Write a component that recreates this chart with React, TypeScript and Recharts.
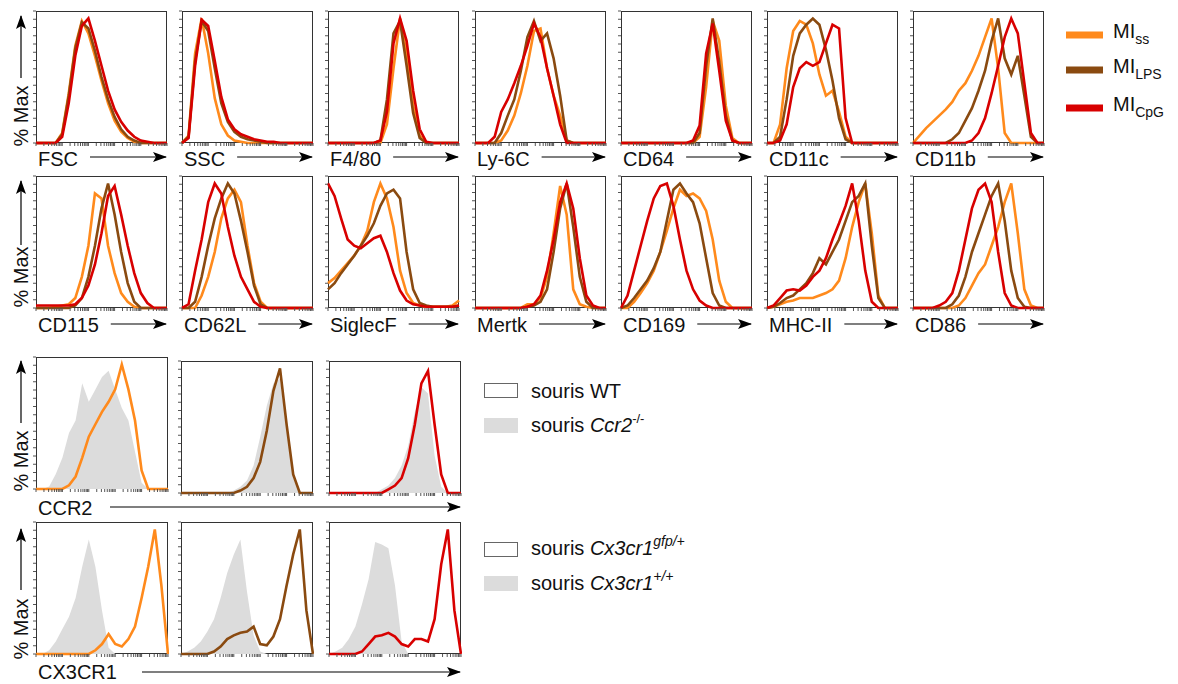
import { ComposedChart, Line, Area, XAxis, YAxis } from "recharts"

// histogram bins, fraction of the log axis (0..100)
const BINS = [0, 5, 10, 15, 20, 25, 30, 35, 40, 45, 50, 55, 60, 65, 70, 75, 80, 85, 90, 95, 100]

// top block: MI ss / LPS / CpG
const fsc_ss = [0, 0, 0, 0, 8, 40, 78, 98, 88, 70, 50, 32, 18, 9, 4, 1, 0, 0, 0, 0, 0]
const fsc_lps = [0, 0, 0, 0, 7, 38, 76, 97, 92, 74, 53, 35, 21, 11, 5, 2, 0, 0, 0, 0, 0]
const fsc_cpg = [0, 0, 0, 0, 5, 32, 70, 94, 100, 82, 62, 42, 27, 17, 10, 5, 2, 1, 0, 0, 0]

const ssc_ss = [0, 6, 72, 100, 72, 36, 15, 6, 2, 1, 0, 0, 0, 0, 0, 0, 0, 0, 0, 0, 0]
const ssc_lps = [0, 5, 66, 98, 90, 60, 32, 17, 9, 5, 3, 2, 1, 0, 0, 0, 0, 0, 0, 0, 0]
const ssc_cpg = [0, 4, 62, 99, 94, 66, 37, 19, 11, 7, 5, 3, 2, 1, 1, 0, 0, 0, 0, 0, 0]

const f480_ss = [0, 0, 0, 0, 0, 0, 0, 0, 0, 15, 60, 100, 72, 30, 6, 0, 0, 0, 0, 0, 0]
const f480_lps = [0, 0, 0, 0, 0, 0, 0, 0, 2, 35, 88, 98, 62, 24, 4, 0, 0, 0, 0, 0, 0]
const f480_cpg = [0, 0, 0, 0, 0, 0, 0, 0, 2, 25, 80, 100, 82, 42, 11, 1, 0, 0, 0, 0, 0]

const ly6c_ss = [0, 0, 0, 0, 2, 10, 22, 40, 62, 90, 92, 60, 38, 22, 2, 0, 0, 0, 0, 0, 0]
const ly6c_lps = [0, 0, 0, 0, 8, 22, 35, 58, 85, 98, 82, 88, 68, 38, 2, 0, 0, 0, 0, 0, 0]
const ly6c_cpg = [0, 0, 0, 5, 25, 35, 48, 62, 78, 96, 85, 60, 38, 15, 0, 0, 0, 0, 0, 0, 0]

const cd64_ss = [0, 0, 0, 0, 0, 0, 0, 0, 0, 0, 0, 0, 5, 45, 98, 82, 30, 4, 0, 0, 0]
const cd64_lps = [0, 0, 0, 0, 0, 0, 0, 0, 0, 0, 0, 0, 8, 62, 100, 65, 22, 2, 0, 0, 0]
const cd64_cpg = [0, 0, 0, 0, 0, 0, 0, 0, 0, 0, 0, 2, 14, 72, 96, 58, 18, 2, 0, 0, 0]

const cd11c_ss = [0, 0, 15, 60, 90, 98, 95, 80, 55, 38, 42, 25, 5, 0, 0, 0, 0, 0, 0, 0, 0]
const cd11c_lps = [0, 0, 5, 35, 70, 88, 95, 100, 95, 75, 50, 20, 3, 0, 0, 0, 0, 0, 0, 0, 0]
const cd11c_cpg = [0, 0, 2, 15, 45, 60, 65, 62, 65, 80, 95, 92, 20, 0, 0, 0, 0, 0, 0, 0, 0]

const cd11b_ss = [0, 6, 12, 17, 22, 27, 33, 42, 48, 58, 70, 85, 100, 60, 8, 0, 0, 0, 0, 0, 0]
const cd11b_lps = [0, 0, 0, 0, 0, 0, 3, 8, 18, 28, 42, 58, 82, 100, 68, 55, 70, 38, 5, 0, 0]
const cd11b_cpg = [0, 0, 0, 0, 0, 0, 0, 0, 0, 2, 8, 20, 40, 62, 85, 100, 88, 48, 8, 0, 0]

const cd115_ss = [0, 0, 0, 1, 2, 3, 8, 25, 50, 92, 88, 50, 28, 12, 5, 1, 0, 0, 0, 0, 0]
const cd115_lps = [0, 0, 0, 0, 0, 0, 2, 8, 25, 50, 80, 100, 75, 45, 20, 5, 0, 0, 0, 0, 0]
const cd115_cpg = [2, 2, 2, 2, 2, 2, 3, 8, 18, 35, 60, 90, 98, 75, 50, 28, 12, 4, 0, 0, 0]

const cd62l_ss = [0, 0, 0, 10, 25, 45, 72, 88, 95, 85, 50, 20, 5, 0, 0, 0, 0, 0, 0, 0, 0]
const cd62l_lps = [0, 0, 5, 25, 50, 72, 88, 100, 92, 70, 45, 18, 3, 0, 0, 0, 0, 0, 0, 0, 0]
const cd62l_cpg = [0, 3, 30, 55, 85, 100, 92, 65, 42, 25, 15, 5, 1, 0, 0, 0, 0, 0, 0, 0, 0]

const siglecf_ss = [20, 24, 30, 36, 42, 50, 62, 85, 100, 88, 65, 30, 12, 4, 2, 1, 1, 1, 1, 2, 6]
const siglecf_lps = [15, 20, 28, 35, 42, 50, 58, 68, 82, 92, 95, 88, 45, 15, 4, 2, 1, 1, 1, 1, 2]
const siglecf_cpg = [100, 90, 72, 55, 50, 48, 52, 56, 58, 45, 28, 14, 6, 3, 2, 1, 1, 1, 1, 1, 2]

const mertk_ss = [0, 0, 0, 0, 0, 0, 0, 0, 3, 3, 8, 25, 60, 98, 75, 15, 3, 1, 0, 0, 0]
const mertk_lps = [0, 0, 0, 0, 0, 0, 0, 0, 1, 2, 5, 15, 45, 80, 100, 65, 25, 5, 0, 0, 0]
const mertk_cpg = [0, 0, 0, 0, 0, 0, 0, 0, 1, 3, 10, 30, 55, 85, 100, 80, 40, 10, 2, 0, 0]

const cd169_ss = [0, 0, 5, 12, 20, 30, 45, 62, 80, 95, 90, 92, 88, 78, 55, 22, 5, 0, 0, 0, 0]
const cd169_lps = [0, 2, 8, 15, 22, 32, 45, 70, 95, 100, 92, 85, 68, 40, 12, 2, 0, 0, 0, 0, 0]
const cd169_cpg = [0, 10, 30, 50, 70, 88, 98, 100, 82, 55, 30, 15, 6, 2, 0, 0, 0, 0, 0, 0, 0]

const mhc_ss = [0, 1, 3, 5, 6, 8, 8, 8, 10, 12, 15, 22, 40, 65, 85, 100, 60, 10, 0, 0, 0]
const mhc_lps = [0, 1, 4, 8, 10, 15, 20, 28, 40, 35, 45, 55, 70, 85, 90, 100, 50, 8, 0, 0, 0]
const mhc_cpg = [0, 2, 8, 14, 15, 14, 18, 25, 30, 40, 55, 68, 82, 100, 70, 30, 5, 0, 0, 0, 0]

const cd86_ss = [0, 0, 0, 0, 0, 0, 0, 2, 8, 18, 28, 35, 50, 65, 85, 100, 60, 15, 2, 0, 0]
const cd86_lps = [0, 0, 0, 0, 0, 0, 3, 10, 25, 45, 60, 75, 90, 100, 70, 30, 8, 1, 0, 0, 0]
const cd86_cpg = [0, 0, 0, 0, 2, 5, 12, 30, 55, 80, 95, 100, 85, 45, 12, 2, 0, 0, 0, 0, 0]

// bottom block: WT line vs knockout / control shaded
const ccr2_ko_ss = [0, 0, 2, 12, 25, 45, 55, 85, 70, 80, 90, 95, 80, 65, 55, 30, 5, 0, 0, 0, 0]
const ccr2_wt_ss = [0, 0, 0, 0, 0, 3, 10, 25, 42, 52, 62, 70, 80, 100, 80, 55, 15, 0, 0, 0, 0]
const ccr2_ko_lps = [0, 0, 0, 0, 0, 0, 0, 0, 2, 5, 10, 22, 45, 70, 88, 92, 50, 12, 0, 0, 0]
const ccr2_wt_lps = [0, 0, 0, 0, 0, 0, 0, 0, 0, 2, 5, 12, 25, 50, 82, 100, 55, 15, 0, 0, 0]
const ccr2_ko_cpg = [0, 0, 0, 0, 0, 0, 0, 0, 3, 6, 12, 22, 38, 65, 85, 80, 30, 5, 0, 0, 0]
const ccr2_wt_cpg = [0, 0, 0, 0, 0, 0, 0, 0, 0, 3, 6, 12, 28, 55, 88, 98, 55, 15, 0, 0, 0]

const cx3_ctl_ss = [0, 0, 3, 10, 20, 30, 45, 70, 92, 70, 35, 5, 0, 0, 0, 0, 0, 0, 0, 0, 0]
const cx3_gfp_ss = [0, 0, 0, 0, 0, 0, 0, 0, 0, 3, 8, 16, 8, 6, 12, 22, 45, 70, 100, 55, 0]
const cx3_ctl_lps = [0, 2, 5, 10, 18, 28, 45, 65, 80, 92, 50, 15, 2, 0, 0, 0, 0, 0, 0, 0, 0]
const cx3_gfp_lps = [0, 0, 0, 0, 0, 2, 6, 12, 15, 17, 18, 22, 8, 7, 14, 28, 55, 80, 100, 35, 0]
const cx3_ctl_cpg = [0, 2, 5, 12, 22, 40, 60, 90, 88, 85, 55, 10, 0, 0, 0, 0, 0, 0, 0, 0, 0]
const cx3_gfp_cpg = [0, 0, 0, 0, 0, 2, 8, 14, 15, 17, 14, 8, 6, 12, 12, 10, 28, 72, 100, 35, 0]

const ROW1_LABELS = ["FSC", "SSC", "F4/80", "Ly-6C", "CD64", "CD11c", "CD11b"]
const ROW2_LABELS = ["CD115", "CD62L", "SiglecF", "Mertk", "CD169", "MHC-II", "CD86"]

const ORANGE = "#ff8a1c"
const BROWN = "#8a4a10"
const RED = "#d80000"
const GRAY = "#dcdcdc"
const FONT = '"Liberation Sans", Arial, sans-serif'

const COLS = [36, 182, 328, 475, 621, 767, 913]
const BOTTOM_COLS = [36, 181, 329]

// log-decade minor ticks along the bottom, evenly spaced marks on the left
const X_TICKS: number[] = []
for (let d = 0; d < 5; d++) for (let k = 1; k <= 9; k++) X_TICKS.push(d * 20 + 20 * Math.log10(k))
X_TICKS.push(100)
const Y_TICKS = Array.from({ length: 17 }, (_, i) => (i * 106) / 16)

const ROW1 = [
  [fsc_ss, fsc_lps, fsc_cpg],
  [ssc_ss, ssc_lps, ssc_cpg],
  [f480_ss, f480_lps, f480_cpg],
  [ly6c_ss, ly6c_lps, ly6c_cpg],
  [cd64_ss, cd64_lps, cd64_cpg],
  [cd11c_ss, cd11c_lps, cd11c_cpg],
  [cd11b_ss, cd11b_lps, cd11b_cpg],
]
const ROW2 = [
  [cd115_ss, cd115_lps, cd115_cpg],
  [cd62l_ss, cd62l_lps, cd62l_cpg],
  [siglecf_ss, siglecf_lps, siglecf_cpg],
  [mertk_ss, mertk_lps, mertk_cpg],
  [cd169_ss, cd169_lps, cd169_cpg],
  [mhc_ss, mhc_lps, mhc_cpg],
  [cd86_ss, cd86_lps, cd86_cpg],
]

const measureCtx = typeof document !== "undefined" ? document.createElement("canvas").getContext("2d") : null
function textWidth(t: string, size: number) {
  if (!measureCtx) return t.length * size * 0.6
  measureCtx.font = `${size}px "Liberation Sans"`
  return measureCtx.measureText(t).width
}

type Trace = { values: number[]; color: string }

function Histo({ x, y, w = 131, h = 132, traces, shade }: { x: number; y: number; w?: number; h?: number; traces: Trace[]; shade?: number[] }) {
  const data = BINS.map((b, i) => {
    const row: Record<string, number> = { b }
    if (shade) row.shade = shade[i]
    traces.forEach((t, j) => (row["s" + j] = t.values[i]))
    return row
  })
  return (
    <div style={{ position: "absolute", left: x - 5, top: y - 1 }}>
      <div
        style={{
          position: "absolute",
          left: 5,
          top: 1,
          width: w,
          height: h,
          border: "1px solid #333",
          boxSizing: "border-box",
        }}
      />
      <ComposedChart width={w + 6} height={h + 6} data={data} margin={{ top: 1, right: 1, bottom: 0, left: 0 }}>
        <XAxis
          dataKey="b"
          type="number"
          domain={[0, 100]}
          ticks={X_TICKS}
          interval={0}
          tick={{ fontSize: 1, fill: "none" }}
          tickFormatter={() => ""}
          tickSize={3}
          tickMargin={0}
          height={5}
          axisLine={false}
          tickLine={{ stroke: "#555" }}
        />
        <YAxis
          type="number"
          domain={[0, 106]}
          ticks={Y_TICKS}
          interval={0}
          tick={{ fontSize: 1, fill: "none" }}
          tickFormatter={() => ""}
          tickSize={3}
          tickMargin={0}
          width={5}
          axisLine={false}
          tickLine={{ stroke: "#555" }}
        />
        {shade && <Area dataKey="shade" type="linear" fill={GRAY} fillOpacity={1} stroke="none" isAnimationActive={false} />}
        {traces.map((t, j) => (
          <Line
            key={j}
            dataKey={"s" + j}
            type="linear"
            stroke={t.color}
            strokeWidth={2.6}
            dot={false}
            isAnimationActive={false}
          />
        ))}
      </ComposedChart>
    </div>
  )
}

const colors = [ORANGE, BROWN, RED]

export default function App() {
  const yLabels = [
    { mid: 116, a0: 78, a1: 16 },
    { mid: 277, a0: 245, a1: 181 },
    { mid: 461, a0: 423, a1: 361 },
    { mid: 629, a0: 590, a1: 529 },
  ]
  return (
    <div style={{ position: "relative", width: 1178, height: 684, background: "#fff", fontFamily: FONT }}>
      <style>{"body{margin:0}"}</style>
      {ROW1.map((set, i) => (
        <Histo key={"r1" + i} x={COLS[i]} y={11} traces={set.map((v, j) => ({ values: v, color: colors[j] }))} />
      ))}
      {ROW2.map((set, i) => (
        <Histo key={"r2" + i} x={COLS[i]} y={176} traces={set.map((v, j) => ({ values: v, color: colors[j] }))} />
      ))}
      <Histo x={BOTTOM_COLS[0]} y={357} w={132} traces={[{ values: ccr2_wt_ss, color: ORANGE }]} shade={ccr2_ko_ss} />
      <Histo x={BOTTOM_COLS[1]} y={361} w={132} traces={[{ values: ccr2_wt_lps, color: BROWN }]} shade={ccr2_ko_lps} />
      <Histo x={BOTTOM_COLS[2]} y={361} w={132} traces={[{ values: ccr2_wt_cpg, color: RED }]} shade={ccr2_ko_cpg} />
      <Histo x={BOTTOM_COLS[0]} y={522} w={132} traces={[{ values: cx3_gfp_ss, color: ORANGE }]} shade={cx3_ctl_ss} />
      <Histo x={BOTTOM_COLS[1]} y={522} w={132} traces={[{ values: cx3_gfp_lps, color: BROWN }]} shade={cx3_ctl_lps} />
      <Histo x={BOTTOM_COLS[2]} y={522} w={132} traces={[{ values: cx3_gfp_cpg, color: RED }]} shade={cx3_ctl_cpg} />

      <svg width={1178} height={684} style={{ position: "absolute", left: 0, top: 0, pointerEvents: "none" }} fontFamily={FONT}>
        <defs>
          <marker id="ah" markerUnits="userSpaceOnUse" markerWidth={14} markerHeight={10} refX={13} refY={5} orient="auto">
            <path d="M0,0 L14,5 L0,10 L3,5 z" fill="#000" />
          </marker>
        </defs>

        {yLabels.map((l, i) => (
          <g key={"yl" + i}>
            <text transform={`translate(28,${l.mid}) rotate(-90)`} textAnchor="middle" fontSize={20} fill="#111">
              % Max
            </text>
            <line x1={21} y1={l.a0} x2={21} y2={l.a1} stroke="#000" strokeWidth={1.2} markerEnd="url(#ah)" />
          </g>
        ))}

        {ROW1_LABELS.map((t, i) => (
          <g key={"l1" + i}>
            <text x={COLS[i] + 2} y={166} fontSize={20} fill="#111">
              {t}
            </text>
            <line x1={COLS[i] + 2 + textWidth(t, 20) + 12} y1={157} x2={COLS[i] + 130} y2={157} stroke="#000" strokeWidth={1.2} markerEnd="url(#ah)" />
          </g>
        ))}
        {ROW2_LABELS.map((t, i) => (
          <g key={"l2" + i}>
            <text x={COLS[i] + 2} y={332} fontSize={20} fill="#111">
              {t}
            </text>
            <line x1={COLS[i] + 2 + textWidth(t, 20) + 12} y1={324} x2={COLS[i] + 130} y2={324} stroke="#000" strokeWidth={1.2} markerEnd="url(#ah)" />
          </g>
        ))}

        <text x={38} y={515} fontSize={20} fill="#111">CCR2</text>
        <line x1={110} y1={507} x2={460} y2={507} stroke="#000" strokeWidth={1.2} markerEnd="url(#ah)" />
        <text x={38} y={679} fontSize={20} fill="#111">CX3CR1</text>
        <line x1={142} y1={672} x2={460} y2={672} stroke="#000" strokeWidth={1.2} markerEnd="url(#ah)" />

        {/* MI legend */}
        {[
          { c: ORANGE, y: 35, sub: "ss" },
          { c: BROWN, y: 70, sub: "LPS" },
          { c: RED, y: 108, sub: "CpG" },
        ].map((e) => (
          <g key={e.sub}>
            <line x1={1066} y1={e.y} x2={1103} y2={e.y} stroke={e.c} strokeWidth={7} />
            <text x={1113} y={e.y + 3} fontSize={20} fill="#111">
              MI
              <tspan fontSize={14} dy={6}>
                {e.sub}
              </tspan>
            </text>
          </g>
        ))}

        {/* genotype legends */}
        <rect x={484.5} y={383.5} width={33} height={14} fill="#fff" stroke="#666" />
        <text x={531} y={398} fontSize={20} fill="#111">souris WT</text>
        <rect x={484} y={418} width={34} height={15} fill={GRAY} />
        <text x={531} y={432} fontSize={20} fill="#111">
          souris <tspan fontStyle="italic">Ccr2</tspan>
          <tspan fontSize={13} dy={-9}>-/-</tspan>
        </text>

        <rect x={484.5} y={542.5} width={33} height={14} fill="#fff" stroke="#666" />
        <text x={531} y={555} fontSize={20} fill="#111">
          souris <tspan fontStyle="italic">Cx3cr1</tspan>
          <tspan fontSize={14} fontStyle="italic" dy={-9}>gfp/+</tspan>
        </text>
        <rect x={484} y={576} width={34} height={15} fill={GRAY} />
        <text x={531} y={590} fontSize={20} fill="#111">
          souris <tspan fontStyle="italic">Cx3cr1</tspan>
          <tspan fontSize={14} fontStyle="italic" dy={-9}>+/+</tspan>
        </text>
      </svg>
    </div>
  )
}
